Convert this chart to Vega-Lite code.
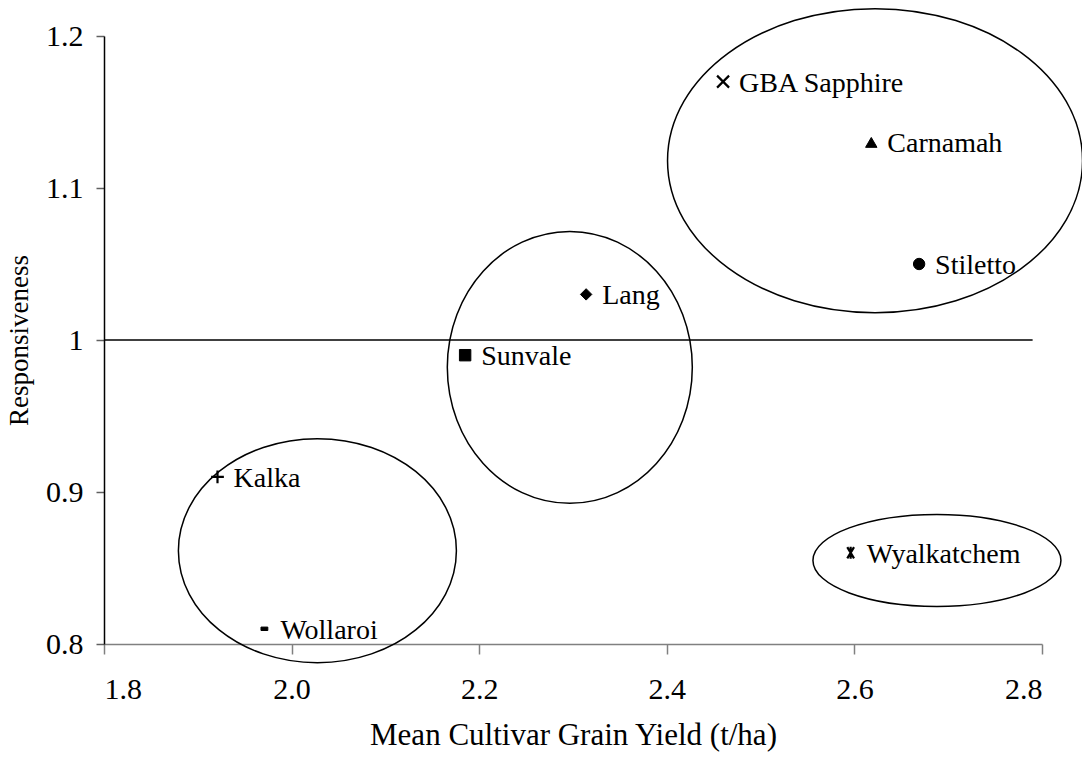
{
  "$schema": "https://vega.github.io/schema/vega-lite/v6.json",
  "width": 938,
  "height": 608,
  "autosize": {"type": "none"},
  "padding": {"left": 104, "top": 36, "right": 40, "bottom": 121},
  "background": "white",
  "config": {
    "view": {"stroke": null},
    "font": "Liberation Serif",
    "axis": {
      "grid": false,
      "labelFont": "Liberation Serif",
      "labelFontSize": 30,
      "labelColor": "black",
      "titleFont": "Liberation Serif",
      "titleFontWeight": "normal",
      "titleColor": "black"
    }
  },
  "datasets": {
    "cultivars": [
      {"cultivar": "GBA Sapphire", "x": 2.46, "y": 1.17},
      {"cultivar": "Carnamah", "x": 2.618, "y": 1.13},
      {"cultivar": "Stiletto", "x": 2.669, "y": 1.05},
      {"cultivar": "Lang", "x": 2.314, "y": 1.03},
      {"cultivar": "Sunvale", "x": 2.185, "y": 0.99},
      {"cultivar": "Kalka", "x": 1.921, "y": 0.91},
      {"cultivar": "Wollaroi", "x": 1.971, "y": 0.81},
      {"cultivar": "Wyalkatchem", "x": 2.596, "y": 0.86}
    ],
    "groups": [
      {"group": "high", "x": 2.622, "y": 1.118},
      {"group": "middle", "x": 2.2966, "y": 0.982},
      {"group": "low", "x": 2.0275, "y": 0.8614},
      {"group": "wyalkatchem", "x": 2.688, "y": 0.855}
    ],
    "refline": [{"x": 1.8, "x2": 2.79, "y": 1}]
  },
  "encoding": {
    "x": {
      "field": "x",
      "type": "quantitative",
      "scale": {"domain": [1.8, 2.8], "nice": false, "zero": false},
      "axis": {
        "title": "Mean Cultivar Grain Yield (t/ha)",
        "titleFontSize": 31,
        "values": [1.8, 2.0, 2.2, 2.4, 2.6, 2.8],
        "format": ".1f",
        "domainColor": "#808080",
        "domainWidth": 1.5,
        "tickColor": "#808080",
        "tickWidth": 1.5,
        "tickSize": 10,
        "labelPadding": 20,
        "titlePadding": 16
      }
    },
    "y": {
      "field": "y",
      "type": "quantitative",
      "scale": {"domain": [0.8, 1.2], "nice": false, "zero": false},
      "axis": {
        "title": "Responsiveness",
        "titleFontSize": 27,
        "values": [0.8, 0.9, 1, 1.1, 1.2],
        "format": "~g",
        "domainColor": "black",
        "domainWidth": 1.5,
        "tickColor": "#606060",
        "tickWidth": 1.5,
        "tickSize": 8,
        "labelPadding": 13,
        "titlePadding": 12
      }
    }
  },
  "layer": [
    {
      "data": {"name": "groups"},
      "transform": [{"filter": "datum.group == 'high'"}],
      "mark": {"type": "point", "shape": "M1,0C1,0.4046,0.5523,0.7325,0,0.7325C-0.5523,0.7325,-1,0.4046,-1,0C-1,-0.4046,-0.5523,-0.7325,0,-0.7325C0.5523,-0.7325,1,-0.4046,1,0Z", "size": 172225, "filled": false, "stroke": "black", "strokeWidth": 1.5, "opacity": 1}
    },
    {
      "data": {"name": "groups"},
      "transform": [{"filter": "datum.group == 'middle'"}],
      "mark": {"type": "point", "shape": "M1,0C1,0.6131,0.5523,1.11,0,1.11C-0.5523,1.11,-1,0.6131,-1,0C-1,-0.6131,-0.5523,-1.11,0,-1.11C0.5523,-1.11,1,-0.6131,1,0Z", "size": 60025, "filled": false, "stroke": "black", "strokeWidth": 1.5, "opacity": 1}
    },
    {
      "data": {"name": "groups"},
      "transform": [{"filter": "datum.group == 'low'"}],
      "mark": {"type": "point", "shape": "M1,0C1,0.4452,0.5523,0.806,0,0.806C-0.5523,0.806,-1,0.4452,-1,0C-1,-0.4452,-0.5523,-0.806,0,-0.806C0.5523,-0.806,1,-0.4452,1,0Z", "size": 77284, "filled": false, "stroke": "black", "strokeWidth": 1.5, "opacity": 1}
    },
    {
      "data": {"name": "groups"},
      "transform": [{"filter": "datum.group == 'wyalkatchem'"}],
      "mark": {"type": "point", "shape": "M1,0C1,0.2049,0.5523,0.371,0,0.371C-0.5523,0.371,-1,0.2049,-1,0C-1,-0.2049,-0.5523,-0.371,0,-0.371C0.5523,-0.371,1,-0.2049,1,0Z", "size": 61504, "filled": false, "stroke": "black", "strokeWidth": 1.5, "opacity": 1}
    },
    {
      "data": {"name": "refline"},
      "mark": {"type": "rule", "color": "black", "strokeWidth": 1.5},
      "encoding": {"x2": {"field": "x2"}}
    },
    {
      "data": {"name": "cultivars"},
      "transform": [{"filter": "indexof(['Carnamah','Stiletto','Lang','Sunvale','Wollaroi'], datum.cultivar) >= 0"}],
      "mark": {"type": "point", "size": 130, "filled": true, "fill": "black", "stroke": "black", "strokeWidth": 1, "opacity": 1},
      "encoding": {
        "shape": {
          "field": "cultivar",
          "type": "nominal",
          "legend": null,
          "scale": {
            "domain": ["GBA Sapphire", "Carnamah", "Stiletto", "Lang", "Sunvale", "Kalka", "Wollaroi", "Wyalkatchem"],
            "range": [
              "M-0.8,-0.8L0.8,0.8M-0.8,0.8L0.8,-0.8",
              "triangle-up",
              "circle",
              "diamond",
              "square",
              "M-0.85,0L0.85,0M0,-0.85L0,0.85",
              "M-0.6,-0.3L0.6,-0.3L0.6,0.3L-0.6,0.3Z",
              "M-0.45,-0.75L0.45,0.75M-0.45,0.75L0.45,-0.75M0,-0.8L0,0.8"
            ]
          }
        }
      }
    },
    {
      "data": {"name": "cultivars"},
      "transform": [{"filter": "indexof(['GBA Sapphire','Kalka','Wyalkatchem'], datum.cultivar) >= 0"}],
      "mark": {"type": "point", "size": 225, "filled": false, "stroke": "black", "strokeWidth": 2.2, "opacity": 1},
      "encoding": {
        "shape": {
          "field": "cultivar",
          "type": "nominal",
          "legend": null
        }
      }
    },
    {
      "data": {"name": "cultivars"},
      "mark": {"type": "text", "align": "left", "baseline": "alphabetic", "dx": 16, "dy": 10, "font": "Liberation Serif", "fontSize": 28, "color": "black"},
      "encoding": {"text": {"field": "cultivar"}}
    }
  ]
}
